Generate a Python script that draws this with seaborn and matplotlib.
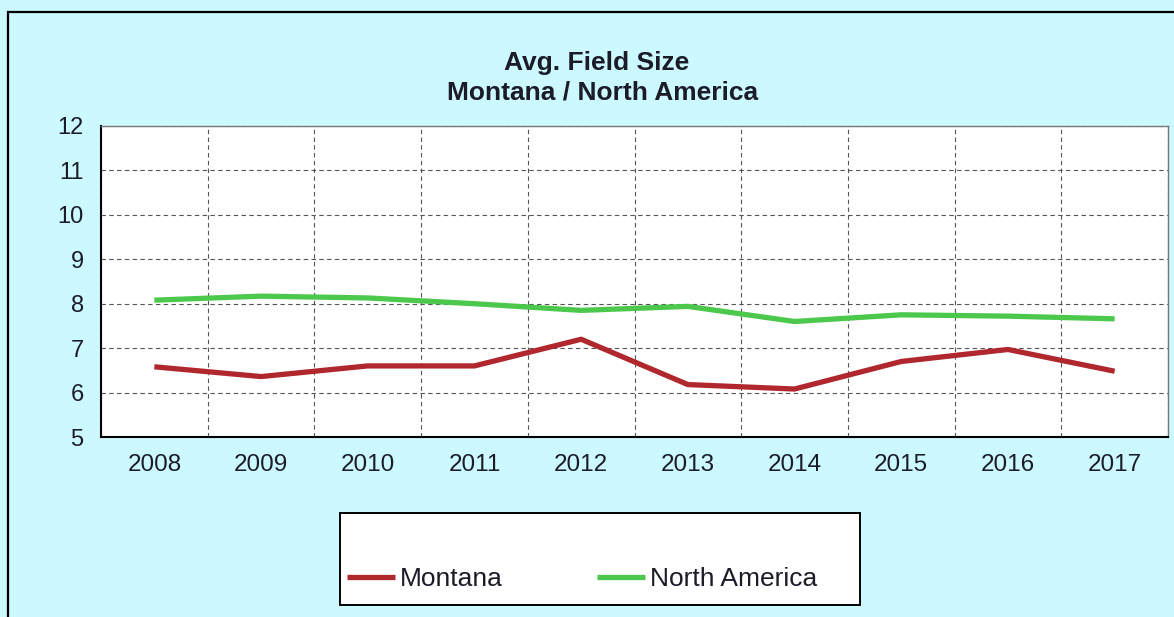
import pandas as pd
import matplotlib
matplotlib.use("Agg")
import matplotlib.pyplot as plt
import seaborn as sns
from matplotlib.patches import Rectangle
from matplotlib.lines import Line2D

# Data
years = ["2008", "2009", "2010", "2011", "2012", "2013", "2014", "2015", "2016", "2017"]
montana = [6.58, 6.36, 6.6, 6.6, 7.2, 6.18, 6.08, 6.7, 6.97, 6.48]
north_america = [8.08, 8.17, 8.13, 8.0, 7.85, 7.94, 7.6, 7.75, 7.72, 7.66]
series_names = ["Montana", "North America"]
colors = {"Montana": "#b0282e", "North America": "#4cc84c"}

df = pd.DataFrame({
    "year": years * 2,
    "value": montana + north_america,
    "series": [series_names[0]] * len(years) + [series_names[1]] * len(years),
})

sns.set_style("white")
plt.rcParams["font.family"] = ["Liberation Sans", "DejaVu Sans"]
txt_color = "#1c1c28"

fig = plt.figure(figsize=(11.74, 6.17), dpi=100)
fig.patch.set_facecolor("#ccf9ff")
ax = fig.add_axes([101 / 1174, 1 - 437 / 617, (1168 - 101) / 1174, (437 - 126) / 617])
ax.set_facecolor("white")

sns.lineplot(data=df, x="year", y="value", hue="series", palette=colors,
             linewidth=3.8, ax=ax, legend=False, solid_capstyle="butt")

ax.set_xlim(-0.5, len(years) - 0.5)
ax.set_ylim(5, 12)
ax.set_yticks(range(5, 13))
ax.set_xticks(range(len(years)))
ax.set_xticklabels(years)
ax.set_xticks([i + 0.5 for i in range(-1, len(years))], minor=True)
ax.set_xlabel("")
ax.set_ylabel("")

ax.tick_params(axis="x", which="major", length=0, labelsize=17.5, pad=12, colors=txt_color)
ax.tick_params(axis="x", which="minor", length=10, width=1.5, direction="out", color="black")
ax.tick_params(axis="y", length=9.5, width=1.5, direction="out", labelsize=17, pad=3,
               color="black", labelcolor=txt_color)

ax.grid(True, axis="y", which="major", linestyle=(0, (4, 3)), color="#555555", linewidth=0.8)
ax.grid(True, axis="x", which="minor", linestyle=(0, (4, 3)), color="#555555", linewidth=0.8)
ax.set_axisbelow(True)

for side in ["left", "bottom"]:
    ax.spines[side].set_color("black")
    ax.spines[side].set_linewidth(1.5)
for side in ["top", "right"]:
    ax.spines[side].set_color("#777777")
    ax.spines[side].set_linewidth(1.0)

# Title
fig.text(597 / 1174, 1 - 63 / 617, "Avg. Field Size", ha="center", va="center",
         fontsize=19, fontweight="bold", color=txt_color)
fig.text(603 / 1174, 1 - 93 / 617, "Montana / North America", ha="center", va="center",
         fontsize=19, fontweight="bold", color=txt_color)

# Outer frame
fig.patches.append(Rectangle((8 / 1174, -0.05), 1.2, (617 - 12) / 617 + 0.05,
                             transform=fig.transFigure, fill=False,
                             edgecolor="black", linewidth=1.6))

# Legend box
fig.patches.append(Rectangle((340 / 1174, 1 - 605 / 617), 520 / 1174, 92 / 617,
                             transform=fig.transFigure, facecolor="white",
                             edgecolor="black", linewidth=1.4, zorder=2))
handles = [Line2D([0], [0], color=colors[n], linewidth=3.8, solid_capstyle="butt")
           for n in series_names]
leg = fig.legend(handles, series_names, loc="center left",
                 bbox_to_anchor=(347 / 1174, 1 - 579 / 617), ncol=2, frameon=False,
                 fontsize=19, handlelength=1.82, handletextpad=0.2,
                 columnspacing=3.55, borderaxespad=0, borderpad=0)
for t in leg.get_texts():
    t.set_color(txt_color)
leg.set_zorder(3)

fig.savefig("out.png", dpi=100)
